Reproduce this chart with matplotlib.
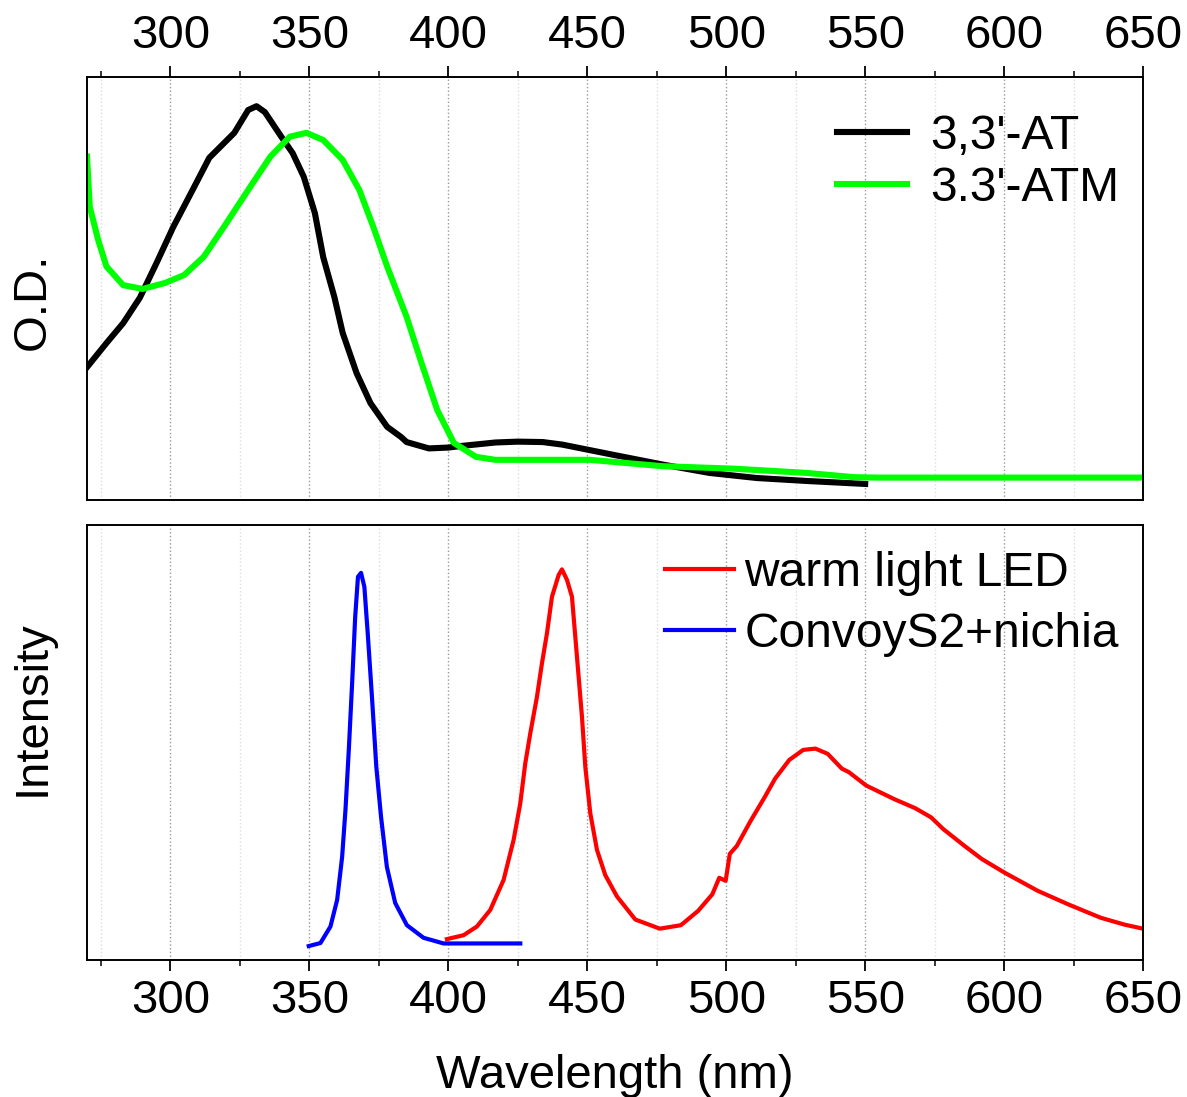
import numpy as np
import matplotlib.pyplot as plt
from matplotlib.ticker import MultipleLocator, NullLocator

plt.rcParams["font.family"] = ["Liberation Sans", "DejaVu Sans"]

# absorption spectra (O.D., arbitrary units)
at_wl = [270, 277, 283, 289, 295, 301, 308, 314, 323, 328, 331, 334, 340, 344,
         348, 352, 355, 359, 362, 367, 372, 378, 383, 385, 393, 400, 405, 417,
         425, 434, 441, 460, 477, 494, 511, 529, 550]
at_od = [0.314, 0.371, 0.418, 0.478, 0.560, 0.645, 0.733, 0.809, 0.868, 0.922,
         0.931, 0.917, 0.858, 0.820, 0.764, 0.678, 0.574, 0.480, 0.395, 0.300,
         0.229, 0.173, 0.149, 0.137, 0.122, 0.124, 0.128, 0.136, 0.138, 0.137,
         0.131, 0.106, 0.084, 0.064, 0.052, 0.045, 0.038]

atm_wl = [270, 271, 274, 277, 283, 290, 298, 305, 312, 319, 328, 336, 343, 349,
          355, 362, 368, 373, 378, 385, 390, 396, 402, 410, 417, 451, 477, 503,
          529, 546, 554, 600, 650]
atm_od = [0.812, 0.693, 0.615, 0.552, 0.508, 0.499, 0.513, 0.532, 0.575, 0.643,
          0.733, 0.812, 0.859, 0.868, 0.851, 0.804, 0.733, 0.646, 0.552, 0.433,
          0.331, 0.213, 0.135, 0.102, 0.095, 0.095, 0.080, 0.074, 0.064, 0.054,
          0.053, 0.053, 0.053]

# emission spectra (intensity, arbitrary units)
uv_wl = [349.8, 354, 357.6, 360, 361.8, 363, 364.2, 365.4, 366.5, 367.5, 368.6,
         369.8, 371, 372.6, 374.1, 375.8, 377.9, 380.9, 385.1, 391.1, 398.3, 425.9]
uv_int = [0.032, 0.039, 0.077, 0.138, 0.237, 0.345, 0.483, 0.637, 0.789, 0.881,
          0.890, 0.858, 0.752, 0.598, 0.444, 0.329, 0.214, 0.131, 0.080, 0.051,
          0.038, 0.038]

warm_wl = [399.5, 405.5, 410.3, 415.1, 419.9, 423.5, 425.9, 427.7, 429.5, 431.9,
           433.7, 435.5, 437.3, 439.7, 440.9, 442.7, 444.5, 446.3, 448.1, 449.3,
           451.1, 453.5, 456.5, 460.7, 467.3, 476.1, 483.7, 489.9, 495, 497.5,
           499.8, 501.3, 503.8, 508.8, 513.9, 517.6, 522.7, 527.7, 532.1, 536.5,
           541.6, 544.1, 550.4, 560.4, 568, 573.7, 578.1, 585.6, 592, 600.1,
           612.1, 623.4, 634.8, 643.5, 650]
warm_int = [0.048, 0.057, 0.077, 0.115, 0.184, 0.276, 0.360, 0.452, 0.521, 0.605,
            0.682, 0.751, 0.835, 0.885, 0.898, 0.874, 0.835, 0.697, 0.559, 0.444,
            0.337, 0.253, 0.195, 0.146, 0.093, 0.072, 0.080, 0.113, 0.151, 0.189,
            0.182, 0.244, 0.262, 0.320, 0.375, 0.417, 0.460, 0.483, 0.486, 0.474,
            0.440, 0.432, 0.401, 0.370, 0.349, 0.328, 0.301, 0.263, 0.232, 0.201,
            0.159, 0.127, 0.097, 0.081, 0.072]

fig = plt.figure(figsize=(11.87, 10.97), dpi=100)
ax1 = fig.add_axes([0.0733, 0.5442, 0.8897, 0.3856])
ax2 = fig.add_axes([0.0733, 0.1249, 0.8897, 0.3965])

ax1.plot(at_wl, at_od, color="black", lw=4.4, solid_joinstyle="round",
         label="3,3'-AT")
ax1.plot(atm_wl, atm_od, color="#00ff00", lw=4.4, solid_joinstyle="round",
         label="3.3'-ATM")
ax1.set_ylim(0, 1)
ax1.set_ylabel("O.D.", fontsize=34)
ax1.yaxis.set_label_coords(-0.031, 0.47)
ax1.xaxis.tick_top()
ax1.tick_params(axis="x", which="both", top=True, bottom=False,
                labeltop=True, labelbottom=False)
ax1.legend(loc="upper right", bbox_to_anchor=(1.009, 0.992), frameon=False,
           fontsize=34.5, handlelength=1.46, handletextpad=0.48, labelspacing=0.15,
           borderaxespad=0.3)

ax2.plot(warm_wl, warm_int, color="red", lw=3.0, solid_joinstyle="round",
         label="warm light LED")
ax2.plot(uv_wl, uv_int, color="blue", lw=3.0, solid_joinstyle="round",
         label="ConvoyS2+nichia")
ax2.set_ylim(0, 1)
ax2.set_ylabel("Intensity", fontsize=34)
ax2.yaxis.set_label_coords(-0.031, 0.58)
ax2.set_xlabel("Wavelength (nm)", fontsize=34, labelpad=22)
ax2.tick_params(axis="x", which="both", top=False, bottom=True)
ax2.legend(loc="upper right", bbox_to_anchor=(1.009, 1.017), frameon=False,
           fontsize=34.5, handlelength=1.46, handletextpad=0.21, labelspacing=0.33,
           borderaxespad=0.3)

for ax in (ax1, ax2):
    ax.set_xlim(270, 650)
    ax.xaxis.set_major_locator(MultipleLocator(50))
    ax.xaxis.set_minor_locator(MultipleLocator(25))
    ax.yaxis.set_major_locator(NullLocator())
    ax.tick_params(axis="x", which="major", direction="out", length=8, width=1.3,
                   labelsize=34, pad=6)
    ax.tick_params(axis="x", which="minor", direction="out", length=4, width=1.1)
    ax.grid(True, which="major", axis="x", color="#999999", ls=":", lw=1.0)
    ax.grid(True, which="minor", axis="x", color="#dddddd", ls=":", lw=1.0)
    for s in ax.spines.values():
        s.set_linewidth(1.4)

fig.savefig("out.png", dpi=100)
